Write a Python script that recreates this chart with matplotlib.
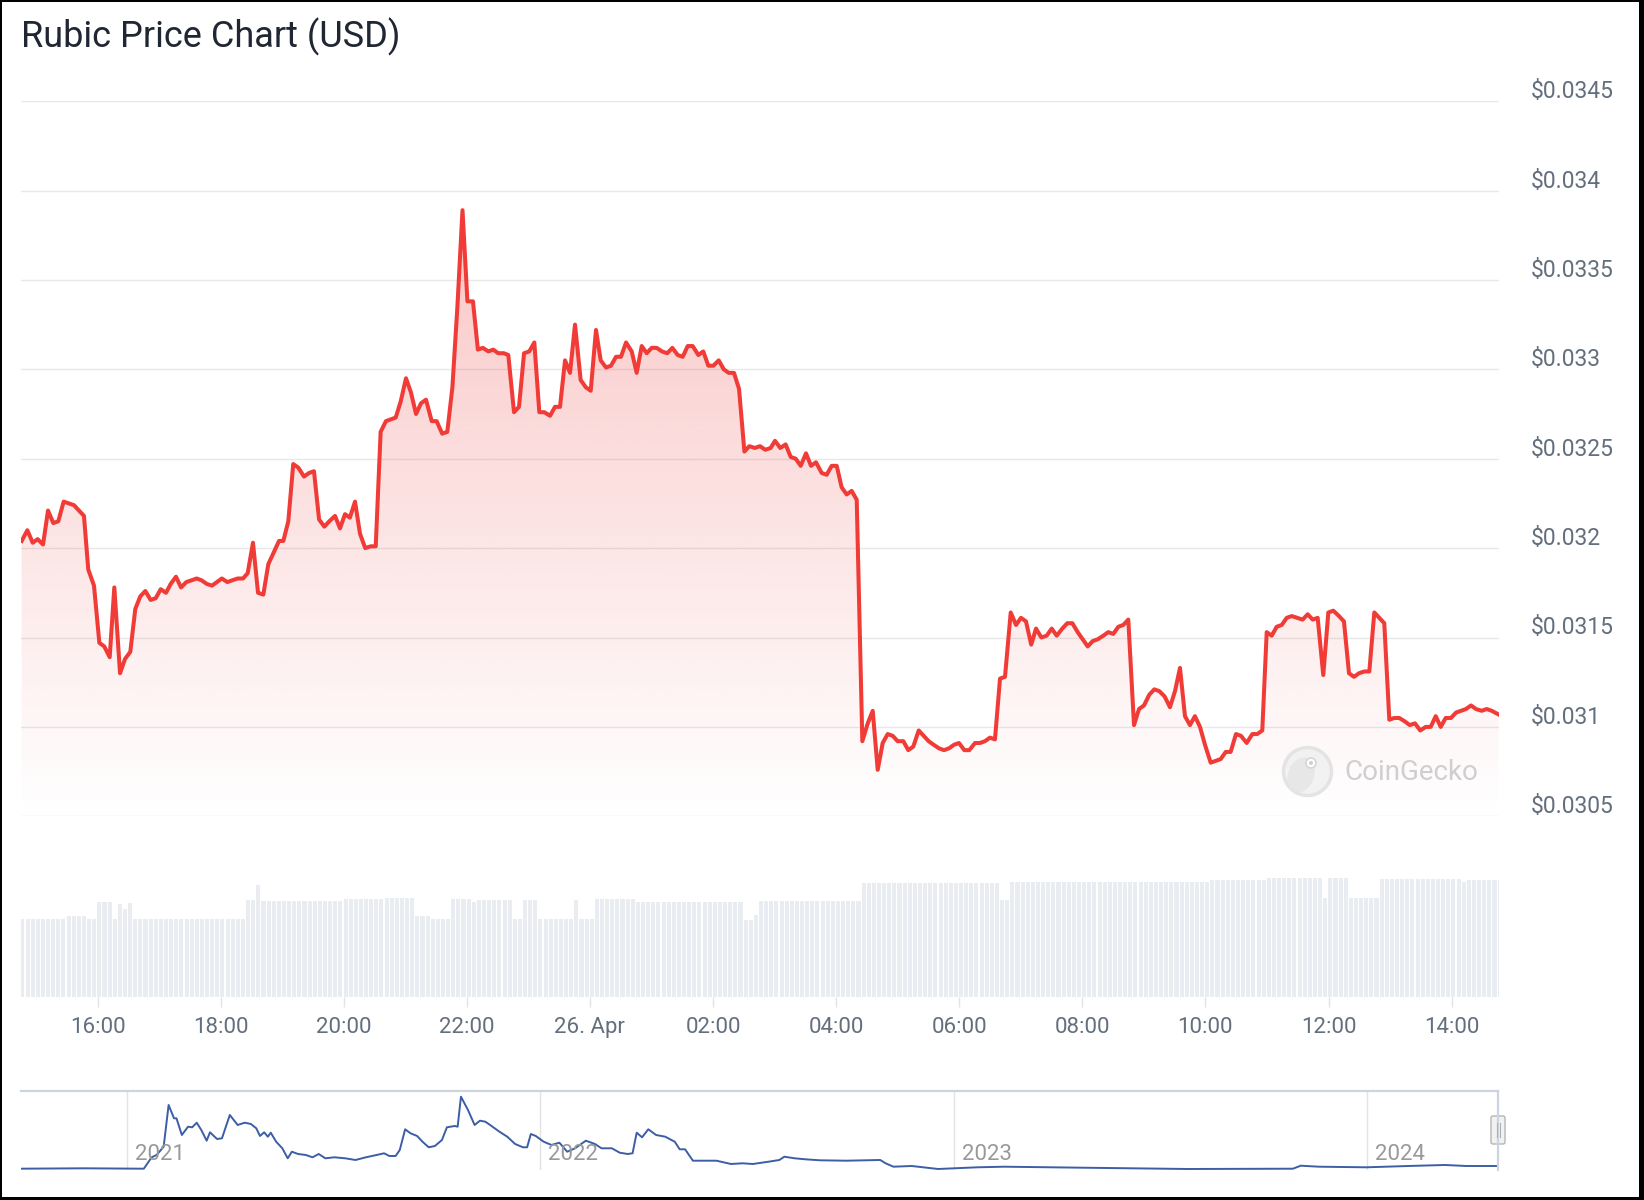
import numpy as np
import matplotlib
matplotlib.use("Agg")
import matplotlib.pyplot as plt
from matplotlib.patches import Rectangle, Circle, Ellipse, FancyBboxPatch
from matplotlib.transforms import ScaledTranslation, blended_transform_factory

plt.rcParams['font.family'] = ['Roboto', 'DejaVu Sans']

# price, hours since 25 Apr 00:00
price_hours = [
    14.768, 14.860, 14.947, 15.028, 15.115, 15.196, 15.282, 15.363, 15.450, 15.532,
    15.618, 15.699, 15.780, 15.850, 15.943, 16.030, 16.110, 16.198, 16.273, 16.366,
    16.447, 16.533, 16.614, 16.695, 16.777, 16.864, 16.946, 17.027, 17.113, 17.190,
    17.275, 17.357, 17.443, 17.530, 17.610, 17.690, 17.774, 17.860, 17.940, 18.020,
    18.110, 18.190, 18.278, 18.364, 18.440, 18.526, 18.608, 18.694, 18.775, 18.856,
    18.949, 19.019, 19.100, 19.180, 19.262, 19.355, 19.436, 19.517, 19.600, 19.685,
    19.766, 19.859, 19.940, 20.021, 20.100, 20.184, 20.265, 20.350, 20.440, 20.520,
    20.600, 20.686, 20.763, 20.845, 20.926, 21.012, 21.093, 21.175, 21.256, 21.337,
    21.430, 21.510, 21.600, 21.683, 21.766, 21.847, 21.930, 22.010, 22.100, 22.180,
    22.260, 22.350, 22.430, 22.510, 22.600, 22.674, 22.767, 22.848, 22.930, 23.015,
    23.097, 23.178, 23.260, 23.352, 23.433, 23.514, 23.596, 23.677, 23.758, 23.850,
    23.932, 24.013, 24.099, 24.175, 24.262, 24.343, 24.424, 24.505, 24.587, 24.679,
    24.760, 24.842, 24.923, 25.004, 25.085, 25.171, 25.257, 25.339, 25.426, 25.508,
    25.589, 25.670, 25.762, 25.842, 25.924, 26.005, 26.093, 26.174, 26.255, 26.341,
    26.423, 26.510, 26.590, 26.680, 26.763, 26.850, 26.937, 27.007, 27.093, 27.180,
    27.262, 27.343, 27.425, 27.511, 27.592, 27.673, 27.766, 27.847, 27.928, 28.010,
    28.090, 28.172, 28.253, 28.335, 28.426, 28.514, 28.595, 28.676, 28.757, 28.838,
    28.920, 29.000, 29.092, 29.173, 29.254, 29.342, 29.423, 29.504, 29.585, 29.672,
    29.753, 29.834, 29.915, 29.996, 30.083, 30.164, 30.257, 30.338, 30.419, 30.500,
    30.581, 30.663, 30.744, 30.837, 30.923, 31.004, 31.085, 31.170, 31.248, 31.334,
    31.421, 31.503, 31.584, 31.675, 31.757, 31.838, 31.925, 32.006, 32.088, 32.169,
    32.250, 32.341, 32.422, 32.503, 32.585, 32.666, 32.747, 32.840, 32.921, 33.002,
    33.088, 33.170, 33.251, 33.338, 33.424, 33.506, 33.587, 33.668, 33.749, 33.830,
    33.912, 33.993, 34.086, 34.167, 34.248, 34.330, 34.410, 34.497, 34.578, 34.671,
    34.762, 34.843, 34.924, 34.996, 35.077, 35.158, 35.240, 35.321, 35.402, 35.493,
    35.580, 35.662, 35.743, 35.824, 35.915, 35.997, 36.078, 36.170, 36.251, 36.333,
    36.414, 36.495, 36.581, 36.663, 36.744, 36.825, 36.906, 36.988, 37.069, 37.150,
    37.243, 37.320, 37.405, 37.490, 37.580, 37.660, 37.742, 37.823, 37.904, 37.990,
    38.071, 38.153, 38.234, 38.315, 38.396, 38.489, 38.570, 38.652, 38.760,
]
price_usd = [
    0.03204, 0.03210, 0.03203, 0.03205, 0.03202, 0.03221, 0.03214, 0.03215, 0.03226, 0.03225,
    0.03224, 0.03221, 0.03218, 0.03188, 0.03179, 0.03147, 0.03145, 0.03139, 0.03178, 0.03130,
    0.03138, 0.03142, 0.03166, 0.03173, 0.03176, 0.03171, 0.03172, 0.03177, 0.03175, 0.03180,
    0.03184, 0.03178, 0.03181, 0.03182, 0.03183, 0.03182, 0.03180, 0.03179, 0.03181, 0.03183,
    0.03181, 0.03182, 0.03183, 0.03183, 0.03186, 0.03203, 0.03175, 0.03174, 0.03191, 0.03197,
    0.03204, 0.03204, 0.03215, 0.03247, 0.03245, 0.03240, 0.03242, 0.03243, 0.03216, 0.03212,
    0.03215, 0.03218, 0.03211, 0.03219, 0.03217, 0.03226, 0.03208, 0.03200, 0.03201, 0.03201,
    0.03265, 0.03271, 0.03272, 0.03273, 0.03282, 0.03295, 0.03287, 0.03275, 0.03281, 0.03283,
    0.03271, 0.03271, 0.03264, 0.03265, 0.03290, 0.03335, 0.03389, 0.03338, 0.03338, 0.03311,
    0.03312, 0.03310, 0.03311, 0.03309, 0.03309, 0.03308, 0.03276, 0.03279, 0.03309, 0.03310,
    0.03315, 0.03276, 0.03276, 0.03274, 0.03279, 0.03279, 0.03305, 0.03298, 0.03325, 0.03294,
    0.03290, 0.03288, 0.03322, 0.03305, 0.03301, 0.03302, 0.03307, 0.03307, 0.03315, 0.03310,
    0.03298, 0.03313, 0.03309, 0.03312, 0.03312, 0.03310, 0.03309, 0.03312, 0.03308, 0.03307,
    0.03313, 0.03313, 0.03308, 0.03310, 0.03302, 0.03302, 0.03305, 0.03300, 0.03298, 0.03298,
    0.03289, 0.03254, 0.03257, 0.03256, 0.03257, 0.03255, 0.03256, 0.03260, 0.03256, 0.03258,
    0.03251, 0.03250, 0.03246, 0.03253, 0.03246, 0.03248, 0.03242, 0.03241, 0.03246, 0.03246,
    0.03234, 0.03230, 0.03232, 0.03227, 0.03092, 0.03102, 0.03109, 0.03076, 0.03091, 0.03096,
    0.03095, 0.03092, 0.03092, 0.03087, 0.03089, 0.03098, 0.03095, 0.03092, 0.03090, 0.03088,
    0.03087, 0.03088, 0.03090, 0.03091, 0.03087, 0.03087, 0.03091, 0.03091, 0.03092, 0.03094,
    0.03093, 0.03127, 0.03128, 0.03164, 0.03157, 0.03161, 0.03159, 0.03146, 0.03155, 0.03150,
    0.03151, 0.03155, 0.03151, 0.03155, 0.03158, 0.03158, 0.03153, 0.03149, 0.03145, 0.03148,
    0.03149, 0.03151, 0.03153, 0.03152, 0.03156, 0.03157, 0.03160, 0.03101, 0.03110, 0.03112,
    0.03118, 0.03121, 0.03120, 0.03117, 0.03111, 0.03120, 0.03133, 0.03106, 0.03101, 0.03106,
    0.03100, 0.03090, 0.03080, 0.03081, 0.03082, 0.03086, 0.03086, 0.03096, 0.03095, 0.03091,
    0.03096, 0.03096, 0.03098, 0.03153, 0.03151, 0.03156, 0.03157, 0.03161, 0.03162, 0.03161,
    0.03160, 0.03163, 0.03160, 0.03161, 0.03129, 0.03164, 0.03165, 0.03162, 0.03159, 0.03130,
    0.03128, 0.03130, 0.03131, 0.03131, 0.03164, 0.03161, 0.03158, 0.03104, 0.03105, 0.03105,
    0.03103, 0.03101, 0.03102, 0.03098, 0.03100, 0.03100, 0.03106, 0.03100, 0.03105, 0.03105,
    0.03108, 0.03109, 0.03110, 0.03112, 0.03110, 0.03109, 0.03110, 0.03109, 0.03107,
]

# volume bars, one every 5 minutes (thousand USD, no axis shown)
vol_first_hour = 14.78
vol_k = ([78] * 9 + [81] * 4 + [78] * 2 + [95] * 3 + [78] + [93, 88] + [94] + [78] * 22
         + [97] * 2 + [112] + [96] * 16 + [97.5] * 8 + [98.3] * 6 + [81] * 3 + [78] * 4
         + [97.3] * 4 + [95] + [96.7] * 7 + [78] * 2 + [96.7] * 3 + [78] * 7 + [96.7]
         + [78] * 3 + [97.3] * 8 + [95] * 21 + [76.7] * 2 + [81.7] + [96] * 20
         + [113.3] * 27 + [96.7] * 2 + [115] * 39 + [116.7] * 11 + [118.3] * 11 + [98.3]
         + [118.3] * 4 + [98.3] * 6 + [117.5] * 16 + [114.3] + [116.7] * 7)

x_ticks = [16, 18, 20, 22, 24, 26, 28, 30, 32, 34, 36, 38]
x_labels = ['16:00', '18:00', '20:00', '22:00', '26. Apr', '02:00',
            '04:00', '06:00', '08:00', '10:00', '12:00', '14:00']
y_ticks = [0.0305, 0.031, 0.0315, 0.032, 0.0325, 0.033, 0.0335, 0.034, 0.0345]
y_labels = ['$0.0305', '$0.031', '$0.0315', '$0.032', '$0.0325',
            '$0.033', '$0.0335', '$0.034', '$0.0345']

# navigator: whole history, decimal years
nav_year = [
    2020.741, 2020.895, 2021.041, 2021.060, 2021.072, 2021.089, 2021.101, 2021.114, 2021.120, 2021.133,
    2021.148, 2021.158, 2021.169, 2021.180, 2021.193, 2021.201, 2021.218, 2021.230, 2021.249, 2021.268,
    2021.285, 2021.300, 2021.313, 2021.322, 2021.332, 2021.341, 2021.348, 2021.361, 2021.376, 2021.389,
    2021.399, 2021.414, 2021.433, 2021.449, 2021.464, 2021.480, 2021.502, 2021.528, 2021.553, 2021.578,
    2021.604, 2021.622, 2021.635, 2021.650, 2021.660, 2021.673, 2021.686, 2021.702, 2021.715, 2021.730,
    2021.745, 2021.762, 2021.774, 2021.793, 2021.800, 2021.808, 2021.825, 2021.841, 2021.854, 2021.867,
    2021.882, 2021.901, 2021.920, 2021.939, 2021.958, 2021.968, 2021.977, 2021.989, 2022.008, 2022.027,
    2022.046, 2022.065, 2022.084, 2022.110, 2022.132, 2022.148, 2022.173, 2022.192, 2022.211, 2022.223,
    2022.233, 2022.246, 2022.261, 2022.280, 2022.302, 2022.325, 2022.337, 2022.350, 2022.369, 2022.426,
    2022.461, 2022.489, 2022.514, 2022.552, 2022.578, 2022.590, 2022.615, 2022.641, 2022.676, 2022.740,
    2022.822, 2022.835, 2022.854, 2022.898, 2022.962, 2023.057, 2023.121, 2023.311, 2023.565, 2023.820,
    2023.839, 2023.883, 2023.998, 2024.099, 2024.188, 2024.239, 2024.316,
]
nav_usd = [
    0.0152, 0.0178, 0.0152, 0.0893, 0.1043, 0.1582, 0.4293, 0.3428, 0.3428, 0.2343,
    0.2882, 0.2843, 0.3142, 0.2668, 0.1972, 0.2518, 0.2083, 0.2128, 0.3643, 0.2993,
    0.3142, 0.3058, 0.2778, 0.2278, 0.2518, 0.2232, 0.2492, 0.1907, 0.1478, 0.0828,
    0.1257, 0.1108, 0.1043, 0.0893, 0.1108, 0.0828, 0.0893, 0.0828, 0.0718, 0.0893,
    0.1043, 0.1153, 0.0978, 0.0978, 0.1368, 0.2713, 0.2453, 0.2278, 0.1907, 0.1543,
    0.1628, 0.2018, 0.2843, 0.2928, 0.2882, 0.4832, 0.3968, 0.2993, 0.3272, 0.3207,
    0.2928, 0.2557, 0.2232, 0.1758, 0.1543, 0.1543, 0.2408, 0.2278, 0.1907, 0.1693,
    0.1842, 0.1257, 0.1478, 0.1972, 0.1758, 0.1478, 0.1478, 0.1192, 0.1108, 0.1153,
    0.2492, 0.2193, 0.2713, 0.2343, 0.2232, 0.1907, 0.1413, 0.1413, 0.0672, 0.0672,
    0.0458, 0.0503, 0.0458, 0.0607, 0.0718, 0.0932, 0.0828, 0.0763, 0.0698, 0.0672,
    0.0718, 0.0503, 0.0282, 0.0328, 0.0133, 0.0243, 0.0282, 0.0217, 0.0133, 0.0152,
    0.0347, 0.0282, 0.0243, 0.0328, 0.0393, 0.0328, 0.0328,
]
nav_years = [2021, 2022, 2023, 2024]

W, H = 1644, 1200
fig = plt.figure(figsize=(W / 100, H / 100), dpi=100)
fig.patch.set_facecolor('white')


def box(x0, y0, x1, y1):
    # pixel box (top-left origin) -> figure fraction
    return [x0 / W, 1 - y1 / H, (x1 - x0) / W, (y1 - y0) / H]


xlim = (14.757, 38.77)
red = '#f03b37'
label_col = '#646f7e'

# ---- price pane
ax = fig.add_axes(box(21, 101.1, 1499, 816.3))
grad = np.zeros((256, 1, 4))
grad[..., :3] = matplotlib.colors.to_rgb('#ef4444')
grad[:, 0, 3] = np.linspace(0.0, 0.36, 256)
im = ax.imshow(grad, extent=[xlim[0], xlim[1], 0.0305, 0.0345], aspect='auto',
               origin='lower', interpolation='bilinear', zorder=1)
area = ax.fill_between(price_hours, price_usd, 0.0305, facecolor='none', edgecolor='none')
im.set_clip_path(area.get_paths()[0], transform=ax.transData)
ax.plot(price_hours, price_usd, color=red, lw=2.9, zorder=3, solid_joinstyle='round')
ax.set_xlim(*xlim)
ax.set_ylim(0.0305, 0.0345)
for s in ax.spines.values():
    s.set_visible(False)
ax.set_xticks([])
ax.set_yticks(y_ticks)
ax.set_yticklabels(y_labels)
ax.yaxis.tick_right()
ax.tick_params(axis='y', length=0, pad=23, labelsize=16.5, labelcolor=label_col)
ax.grid(axis='y', color='#e8e8e8', lw=1.0)
ax.set_axisbelow(True)
lift = ScaledTranslation(0, 0.12, fig.dpi_scale_trans)
for lab in ax.get_yticklabels():
    lab.set_transform(lab.get_transform() + lift)

# ---- volume pane
vax = fig.add_axes(box(21, 820, 1499, 996.7))
vol_hours = vol_first_hour + np.arange(len(vol_k)) * (5 / 60)
vax.bar(vol_hours, vol_k, width=0.066, color='#e9edf2', linewidth=0)
vax.set_xlim(*xlim)
vax.set_ylim(0, 176.7)
vax.patch.set_alpha(0)
for s in vax.spines.values():
    s.set_visible(False)
vax.set_yticks([])
vax.set_xticks(x_ticks)
vax.set_xticklabels(x_labels)
vax.tick_params(axis='x', length=7.5, width=1, color='#e3e3e3', pad=7,
                labelsize=16, labelcolor=label_col)

# ---- navigator
nax = fig.add_axes(box(21, 1090.7, 1498, 1170))
nax.plot(nav_year, nav_usd, color='#3b5ea6', lw=1.4)
nax.set_xlim(2020.744, 2024.316)
nax.set_ylim(0.00675, 0.5222)
nax.axis('off')
yr_tr = blended_transform_factory(nax.transData, nax.transAxes)
for yr in nav_years:
    nax.plot([yr, yr], [0, 1], transform=yr_tr, color='#e3e3e3', lw=1, zorder=0)
    nax.text(yr, 0.19, str(yr), transform=yr_tr + ScaledTranslation(0.08, 0, fig.dpi_scale_trans),
             fontsize=16, color='#999999', va='center', ha='left')

# ---- overlay in pixel coords: title, frame, watermark, navigator outline
ov = fig.add_axes([0, 0, 1, 1])
ov.set_xlim(0, W)
ov.set_ylim(H, 0)
ov.axis('off')
ov.patch.set_alpha(0)

ov.text(21, 37, 'Rubic Price Chart (USD)', fontsize=26, color='#202733',
        va='center', ha='left')

ov.plot([21, 1498], [1090.7, 1090.7], color='#ccd4df', lw=1.6)
ov.plot([1498, 1498], [1090.7, 1170], color='#ccd4df', lw=1.6)
ov.add_patch(FancyBboxPatch((1491, 1116), 14, 28, boxstyle='round,pad=0,rounding_size=2',
                            fc='#f2f2f2', ec='#b5b5b5', lw=1))
ov.plot([1496.5, 1496.5], [1123, 1137], color='#b0b0b0', lw=0.8)
ov.plot([1499.5, 1499.5], [1123, 1137], color='#b0b0b0', lw=0.8)

# CoinGecko watermark
ov.add_patch(Circle((1307.5, 771.5), 24, fc='#f1f1f1', ec='#e2e2e2', lw=2.5, alpha=0.9))
ov.add_patch(Ellipse((1301, 775), 26, 36, angle=20, fc='#e6e6e6', ec='none', alpha=0.9))
ov.add_patch(Circle((1311, 763), 5, fc='white', ec='#d6d6d6', lw=1.2))
ov.add_patch(Circle((1311, 763), 2, fc='#cfcfcf', ec='none'))
ov.text(1344, 772, 'CoinGecko', fontsize=20, color='#cfcfcf', va='center', ha='left')

# black frame round the picture
ov.add_patch(Rectangle((0, 0), W, 2, fc='black', ec='none'))
ov.add_patch(Rectangle((0, 0), 2, H, fc='black', ec='none'))
ov.add_patch(Rectangle((W - 5, 0), 5, H, fc='black', ec='none'))
ov.add_patch(Rectangle((0, H - 3), W, 3, fc='black', ec='none'))

fig.savefig('out.png', dpi=100, facecolor='white')
